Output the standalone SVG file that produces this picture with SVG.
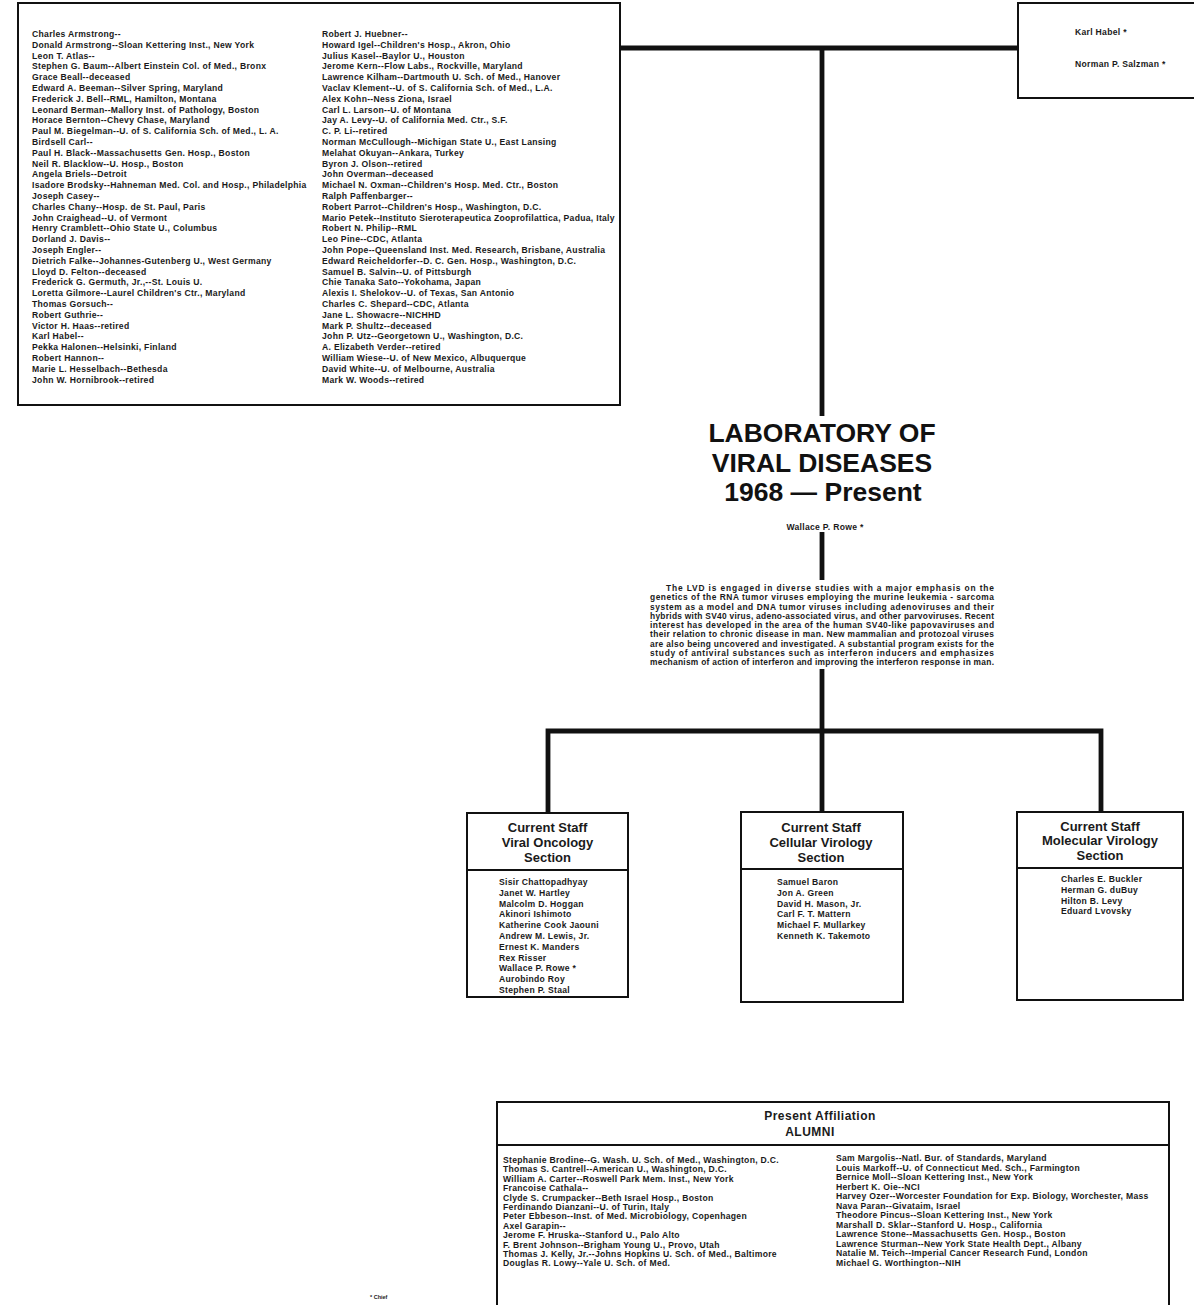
<svg xmlns="http://www.w3.org/2000/svg" width="1194" height="1305" viewBox="0 0 1194 1305">
<style>
.t{font-family:"Liberation Sans",Arial,sans-serif;font-weight:bold;font-size:8.6px;letter-spacing:0.3px;fill:#1a1a1a}
.p{font-family:"Liberation Sans",Arial,sans-serif;font-weight:bold;font-size:8.4px;fill:#1a1a1a}
.h{font-family:"Liberation Sans",Arial,sans-serif;font-weight:bold;font-size:13px;fill:#1a1a1a;text-anchor:middle}
.a{font-family:"Liberation Sans",Arial,sans-serif;font-weight:bold;font-size:12px;letter-spacing:0.5px;fill:#1a1a1a;text-anchor:middle}
.title{font-family:"Liberation Sans",Arial,sans-serif;font-weight:bold;font-size:26.5px;fill:#111;text-anchor:middle}
.box{fill:#fff;stroke:#111;stroke-width:2}
.thick{fill:none;stroke:#111;stroke-width:4.8}
.div{stroke:#111;stroke-width:2}
</style>
<rect width="1194" height="1305" fill="#fff"/>

<g id="connectors">
<line class="thick" x1="620" y1="48" x2="1018" y2="48"/>
<line class="thick" x1="822" y1="48" x2="822" y2="416"/>
<line class="thick" x1="822" y1="532" x2="822" y2="580"/>
<line class="thick" x1="822" y1="669" x2="822" y2="731"/>
<polyline class="thick" points="548,813 548,731 1101,731 1101,812"/>
<line class="thick" x1="822" y1="731" x2="822" y2="812"/>
</g>

<g id="former-staff">
<rect class="box" x="18" y="3" width="602" height="402"/>
<text class="t" x="32" y="37">
<tspan x="32" dy="0">Charles Armstrong--</tspan>
<tspan x="32" dy="10.8">Donald Armstrong--Sloan Kettering Inst., New York</tspan>
<tspan x="32" dy="10.8">Leon T. Atlas--</tspan>
<tspan x="32" dy="10.8">Stephen G. Baum--Albert Einstein Col. of Med., Bronx</tspan>
<tspan x="32" dy="10.8">Grace Beall--deceased</tspan>
<tspan x="32" dy="10.8">Edward A. Beeman--Silver Spring, Maryland</tspan>
<tspan x="32" dy="10.8">Frederick J. Bell--RML, Hamilton, Montana</tspan>
<tspan x="32" dy="10.8">Leonard Berman--Mallory Inst. of Pathology, Boston</tspan>
<tspan x="32" dy="10.8">Horace Bernton--Chevy Chase, Maryland</tspan>
<tspan x="32" dy="10.8">Paul M. Biegelman--U. of S. California Sch. of Med., L. A.</tspan>
<tspan x="32" dy="10.8">Birdsell Carl--</tspan>
<tspan x="32" dy="10.8">Paul H. Black--Massachusetts Gen. Hosp., Boston</tspan>
<tspan x="32" dy="10.8">Neil R. Blacklow--U. Hosp., Boston</tspan>
<tspan x="32" dy="10.8">Angela Briels--Detroit</tspan>
<tspan x="32" dy="10.8">Isadore Brodsky--Hahneman Med. Col. and Hosp., Philadelphia</tspan>
<tspan x="32" dy="10.8">Joseph Casey--</tspan>
<tspan x="32" dy="10.8">Charles Chany--Hosp. de St. Paul, Paris</tspan>
<tspan x="32" dy="10.8">John Craighead--U. of Vermont</tspan>
<tspan x="32" dy="10.8">Henry Cramblett--Ohio State U., Columbus</tspan>
<tspan x="32" dy="10.8">Dorland J. Davis--</tspan>
<tspan x="32" dy="10.8">Joseph Engler--</tspan>
<tspan x="32" dy="10.8">Dietrich Falke--Johannes-Gutenberg U., West Germany</tspan>
<tspan x="32" dy="10.8">Lloyd D. Felton--deceased</tspan>
<tspan x="32" dy="10.8">Frederick G. Germuth, Jr.,--St. Louis U.</tspan>
<tspan x="32" dy="10.8">Loretta Gilmore--Laurel Children's Ctr., Maryland</tspan>
<tspan x="32" dy="10.8">Thomas Gorsuch--</tspan>
<tspan x="32" dy="10.8">Robert Guthrie--</tspan>
<tspan x="32" dy="10.8">Victor H. Haas--retired</tspan>
<tspan x="32" dy="10.8">Karl Habel--</tspan>
<tspan x="32" dy="10.8">Pekka Halonen--Helsinki, Finland</tspan>
<tspan x="32" dy="10.8">Robert Hannon--</tspan>
<tspan x="32" dy="10.8">Marie L. Hesselbach--Bethesda</tspan>
<tspan x="32" dy="10.8">John W. Hornibrook--retired</tspan>
</text>
<text class="t" x="322" y="37">
<tspan x="322" dy="0">Robert J. Huebner--</tspan>
<tspan x="322" dy="10.8">Howard Igel--Children's Hosp., Akron, Ohio</tspan>
<tspan x="322" dy="10.8">Julius Kasel--Baylor U., Houston</tspan>
<tspan x="322" dy="10.8">Jerome Kern--Flow Labs., Rockville, Maryland</tspan>
<tspan x="322" dy="10.8">Lawrence Kilham--Dartmouth U. Sch. of Med., Hanover</tspan>
<tspan x="322" dy="10.8">Vaclav Klement--U. of S. California Sch. of Med., L.A.</tspan>
<tspan x="322" dy="10.8">Alex Kohn--Ness Ziona, Israel</tspan>
<tspan x="322" dy="10.8">Carl L. Larson--U. of Montana</tspan>
<tspan x="322" dy="10.8">Jay A. Levy--U. of California Med. Ctr., S.F.</tspan>
<tspan x="322" dy="10.8">C. P. Li--retired</tspan>
<tspan x="322" dy="10.8">Norman McCullough--Michigan State U., East Lansing</tspan>
<tspan x="322" dy="10.8">Melahat Okuyan--Ankara, Turkey</tspan>
<tspan x="322" dy="10.8">Byron J. Olson--retired</tspan>
<tspan x="322" dy="10.8">John Overman--deceased</tspan>
<tspan x="322" dy="10.8">Michael N. Oxman--Children's Hosp. Med. Ctr., Boston</tspan>
<tspan x="322" dy="10.8">Ralph Paffenbarger--</tspan>
<tspan x="322" dy="10.8">Robert Parrot--Children's Hosp., Washington, D.C.</tspan>
<tspan x="322" dy="10.8">Mario Petek--Instituto Sieroterapeutica Zooprofilattica, Padua, Italy</tspan>
<tspan x="322" dy="10.8">Robert N. Philip--RML</tspan>
<tspan x="322" dy="10.8">Leo Pine--CDC, Atlanta</tspan>
<tspan x="322" dy="10.8">John Pope--Queensland Inst. Med. Research, Brisbane, Australia</tspan>
<tspan x="322" dy="10.8">Edward Reicheldorfer--D. C. Gen. Hosp., Washington, D.C.</tspan>
<tspan x="322" dy="10.8">Samuel B. Salvin--U. of Pittsburgh</tspan>
<tspan x="322" dy="10.8">Chie Tanaka Sato--Yokohama, Japan</tspan>
<tspan x="322" dy="10.8">Alexis I. Shelokov--U. of Texas, San Antonio</tspan>
<tspan x="322" dy="10.8">Charles C. Shepard--CDC, Atlanta</tspan>
<tspan x="322" dy="10.8">Jane L. Showacre--NICHHD</tspan>
<tspan x="322" dy="10.8">Mark P. Shultz--deceased</tspan>
<tspan x="322" dy="10.8">John P. Utz--Georgetown U., Washington, D.C.</tspan>
<tspan x="322" dy="10.8">A. Elizabeth Verder--retired</tspan>
<tspan x="322" dy="10.8">William Wiese--U. of New Mexico, Albuquerque</tspan>
<tspan x="322" dy="10.8">David White--U. of Melbourne, Australia</tspan>
<tspan x="322" dy="10.8">Mark W. Woods--retired</tspan>
</text>
</g>

<g id="chiefs">
<rect class="box" x="1018" y="3" width="190" height="95"/>
<text class="t" x="1075" y="35">Karl Habel *</text>
<text class="t" x="1075" y="67">Norman P. Salzman *</text>
</g>

<g id="title">
<text class="title" x="822" y="442">LABORATORY OF</text>
<text class="title" x="822" y="472">VIRAL DISEASES</text>
<text class="title" x="823" y="501">1968 — Present</text>
<text class="t" x="825" y="530" text-anchor="middle">Wallace P. Rowe *</text>
</g>

<g id="description">
<text class="p" x="666" y="591" textLength="328" lengthAdjust="spacing">The LVD is engaged in diverse studies with a major emphasis on the</text>
<text class="p" x="650" y="600.3" textLength="344" lengthAdjust="spacing">genetics of the RNA tumor viruses employing the murine leukemia - sarcoma</text>
<text class="p" x="650" y="609.5" textLength="344" lengthAdjust="spacing">system as a model and DNA tumor viruses including adenoviruses and their</text>
<text class="p" x="650" y="618.8" textLength="344" lengthAdjust="spacing">hybrids with SV40 virus, adeno-associated virus, and other parvoviruses. Recent</text>
<text class="p" x="650" y="628" textLength="344" lengthAdjust="spacing">interest has developed in the area of the human SV40-like papovaviruses and</text>
<text class="p" x="650" y="637.3" textLength="344" lengthAdjust="spacing">their relation to chronic disease in man. New mammalian and protozoal viruses</text>
<text class="p" x="650" y="646.5" textLength="344" lengthAdjust="spacing">are also being uncovered and investigated. A substantial program exists for the</text>
<text class="p" x="650" y="655.8" textLength="344" lengthAdjust="spacing">study of antiviral substances such as interferon inducers and emphasizes</text>
<text class="p" x="650" y="665" textLength="344" lengthAdjust="spacing">mechanism of action of interferon and improving the interferon response in man.</text>
</g>

<g id="viral-oncology">
<rect class="box" x="467" y="813" width="161" height="184"/>
<line class="div" x1="467" y1="870" x2="628" y2="870"/>
<text class="h" x="547.5" y="832">Current Staff</text>
<text class="h" x="547.5" y="847">Viral Oncology</text>
<text class="h" x="547.5" y="862">Section</text>
<text class="t" x="499" y="885">
<tspan x="499" dy="0">Sisir Chattopadhyay</tspan>
<tspan x="499" dy="10.8">Janet W. Hartley</tspan>
<tspan x="499" dy="10.8">Malcolm D. Hoggan</tspan>
<tspan x="499" dy="10.8">Akinori Ishimoto</tspan>
<tspan x="499" dy="10.8">Katherine Cook Jaouni</tspan>
<tspan x="499" dy="10.8">Andrew M. Lewis, Jr.</tspan>
<tspan x="499" dy="10.8">Ernest K. Manders</tspan>
<tspan x="499" dy="10.8">Rex Risser</tspan>
<tspan x="499" dy="10.8">Wallace P. Rowe *</tspan>
<tspan x="499" dy="10.8">Aurobindo Roy</tspan>
<tspan x="499" dy="10.8">Stephen P. Staal</tspan>
</text>
</g>

<g id="cellular-virology">
<rect class="box" x="741" y="812" width="162" height="190"/>
<line class="div" x1="741" y1="869" x2="903" y2="869"/>
<text class="h" x="821" y="832">Current Staff</text>
<text class="h" x="821" y="847">Cellular Virology</text>
<text class="h" x="821" y="862">Section</text>
<text class="t" x="777" y="885">
<tspan x="777" dy="0">Samuel Baron</tspan>
<tspan x="777" dy="10.8">Jon A. Green</tspan>
<tspan x="777" dy="10.8">David H. Mason, Jr.</tspan>
<tspan x="777" dy="10.8">Carl F. T. Mattern</tspan>
<tspan x="777" dy="10.8">Michael F. Mullarkey</tspan>
<tspan x="777" dy="10.8">Kenneth K. Takemoto</tspan>
</text>
</g>

<g id="molecular-virology">
<rect class="box" x="1017" y="812" width="166" height="188"/>
<line class="div" x1="1017" y1="868" x2="1183" y2="868"/>
<text class="h" x="1100" y="831">Current Staff</text>
<text class="h" x="1100" y="845">Molecular Virology</text>
<text class="h" x="1100" y="860">Section</text>
<text class="t" x="1061" y="882">
<tspan x="1061" dy="0">Charles E. Buckler</tspan>
<tspan x="1061" dy="10.8">Herman G. duBuy</tspan>
<tspan x="1061" dy="10.8">Hilton B. Levy</tspan>
<tspan x="1061" dy="10.8">Eduard Lvovsky</tspan>
</text>
</g>

<g id="alumni">
<rect class="box" x="497" y="1102" width="672" height="215"/>
<line class="div" x1="497" y1="1145" x2="1169" y2="1145"/>
<text class="a" x="820" y="1120">Present Affiliation</text>
<text class="a" x="810" y="1136">ALUMNI</text>
<text class="t" x="503" y="1163">
<tspan x="503" dy="0">Stephanie Brodine--G. Wash. U. Sch. of Med., Washington, D.C.</tspan>
<tspan x="503" dy="9.4">Thomas S. Cantrell--American U., Washington, D.C.</tspan>
<tspan x="503" dy="9.4">William A. Carter--Roswell Park Mem. Inst., New York</tspan>
<tspan x="503" dy="9.4">Francoise Cathala--</tspan>
<tspan x="503" dy="9.4">Clyde S. Crumpacker--Beth Israel Hosp., Boston</tspan>
<tspan x="503" dy="9.4">Ferdinando Dianzani--U. of Turin, Italy</tspan>
<tspan x="503" dy="9.4">Peter Ebbeson--Inst. of Med. Microbiology, Copenhagen</tspan>
<tspan x="503" dy="9.4">Axel Garapin--</tspan>
<tspan x="503" dy="9.4">Jerome F. Hruska--Stanford U., Palo Alto</tspan>
<tspan x="503" dy="9.4">F. Brent Johnson--Brigham Young U., Provo, Utah</tspan>
<tspan x="503" dy="9.4">Thomas J. Kelly, Jr.--Johns Hopkins U. Sch. of Med., Baltimore</tspan>
<tspan x="503" dy="9.4">Douglas R. Lowy--Yale U. Sch. of Med.</tspan>
</text>
<text class="t" x="836" y="1161">
<tspan x="836" dy="0">Sam Margolis--Natl. Bur. of Standards, Maryland</tspan>
<tspan x="836" dy="9.5">Louis Markoff--U. of Connecticut Med. Sch., Farmington</tspan>
<tspan x="836" dy="9.5">Bernice Moll--Sloan Kettering Inst., New York</tspan>
<tspan x="836" dy="9.5">Herbert K. Oie--NCI</tspan>
<tspan x="836" dy="9.5">Harvey Ozer--Worcester Foundation for Exp. Biology, Worchester, Mass</tspan>
<tspan x="836" dy="9.5">Nava Paran--Givataim, Israel</tspan>
<tspan x="836" dy="9.5">Theodore Pincus--Sloan Kettering Inst., New York</tspan>
<tspan x="836" dy="9.5">Marshall D. Sklar--Stanford U. Hosp., California</tspan>
<tspan x="836" dy="9.5">Lawrence Stone--Massachusetts Gen. Hosp., Boston</tspan>
<tspan x="836" dy="9.5">Lawrence Sturman--New York State Health Dept., Albany</tspan>
<tspan x="836" dy="9.5">Natalie M. Teich--Imperial Cancer Research Fund, London</tspan>
<tspan x="836" dy="9.5">Michael G. Worthington--NIH</tspan>
</text>
</g>

<text class="t" x="370" y="1299" style="font-size:5.5px;letter-spacing:0">* Chief</text>
</svg>
